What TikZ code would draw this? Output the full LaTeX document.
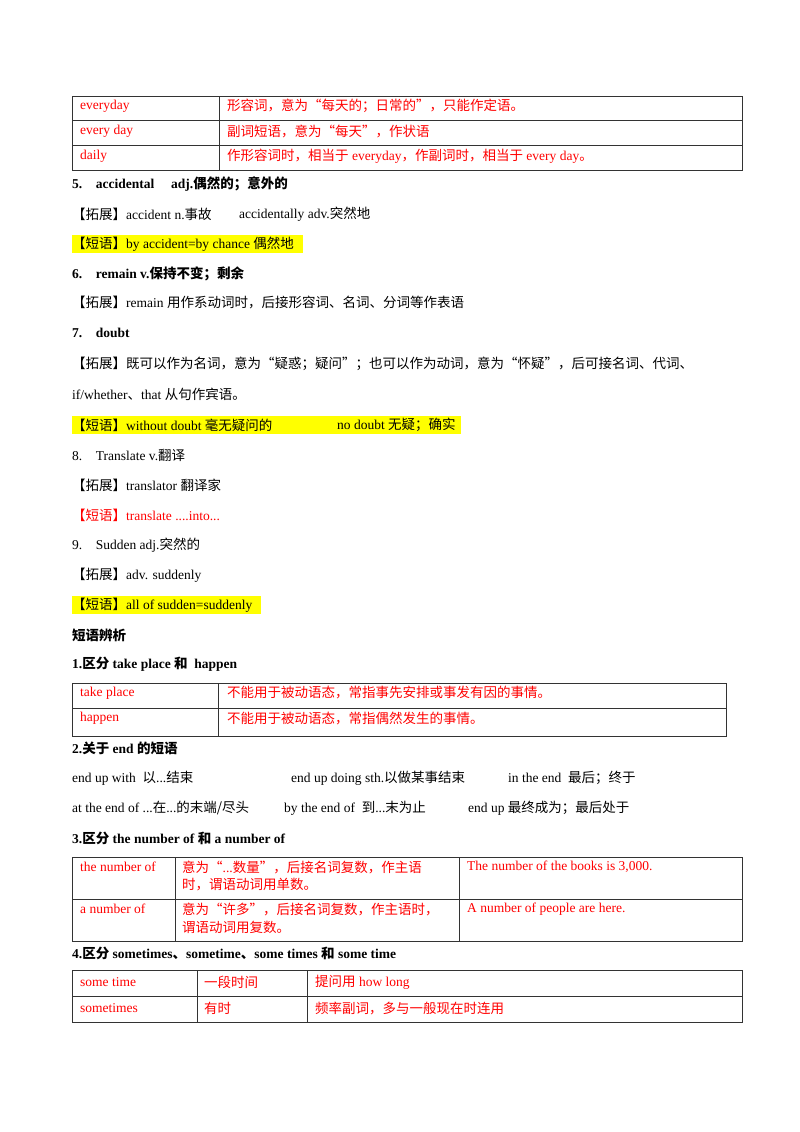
\documentclass[tikz,border=0pt]{standalone}
\usepackage{fontspec}
\setmainfont{Liberation Serif}
\newfontfamily\cjk{Noto Sans CJK SC}
\newcommand{\zh}[1]{{\cjk #1}}
\usepackage{tikz}
\usetikzlibrary{positioning}
\definecolor{notered}{rgb}{1.0,0.0,0.0}
\definecolor{marker}{rgb}{1.0,1.0,0.0}

\tikzset{
  txt/.style={anchor=west,inner sep=0pt,font=\fontsize{13.5}{16}\selectfont},
  red/.style={txt,text=notered},
  head/.style={txt,font=\fontsize{13.5}{16}\selectfont\bfseries},
  rule/.style={line width=0.8pt,black!80}
}

\begin{document}
\begin{tikzpicture}[x=1pt,y=-1pt]
  \useasboundingbox[fill=white] (0,0) rectangle (800,1132);

  % table: everyday
  \draw[rule] (72,96) rectangle (742,170);
  \draw[rule] (72,120) -- (742,120) (72,145) -- (742,145) (219,96) -- (219,170);
  \node[red] (t1a) at (80,106) {everyday};
  \node[red] (t1b) at (227,106) {\zh{形容词，意为“每天的；日常的”，只能作定语。}};
  \node[red] (t1c) at (80,131) {every day};
  \node[red] (t1d) at (227,131) {\zh{副词短语，意为“每天”，作状语}};
  \node[red] (t1e) at (80,156) {daily};
  \node[red] (t1f) at (227,156) {\zh{作形容词时，相当于} everyday\zh{，作副词时，相当于} every day\zh{。}};

  % word 5
  \node[head] (w5) at (72,184) {5.\quad accidental\quad\ adj.\zh{偶然的；意外的}};
  \node[txt] (w5a) at (72,214) {\zh{【拓展】}accident n.\zh{事故}};
  \node[txt] (w5b) at (239,214) {accidentally adv.\zh{突然地}};
  \fill[marker] (72,235) rectangle (303,253);
  \node[txt] (w5c) at (72,244) {\zh{【短语】}by accident=by chance \zh{偶然地}};

  % word 6
  \node[head] (w6) at (72,274) {6.\quad remain v.\zh{保持不变；剩余}};
  \node[txt] (w6a) at (72,303) {\zh{【拓展】}remain \zh{用作系动词时，后接形容词、名词、分词等作表语}};

  % word 7
  \node[head] (w7) at (72,333) {7.\quad doubt};
  \node[txt] (w7a) at (72,364) {\zh{【拓展】既可以作为名词，意为“疑惑；疑问”；也可以作为动词，意为“怀疑”，后可接名词、代词、}};
  \node[txt] (w7b) at (72,394) {if/whether\zh{、}that \zh{从句作宾语。}};
  \fill[marker] (72,416) rectangle (461,434);
  \node[txt] (w7c) at (72,425) {\zh{【短语】}without doubt \zh{毫无疑问的}};
  \node[txt] (w7d) at (337,425) {no doubt \zh{无疑；确实}};

  % word 8
  \node[txt] (w8) at (72,455) {8.\quad Translate v.\zh{翻译}};
  \node[txt] (w8a) at (72,485) {\zh{【拓展】}translator \zh{翻译家}};
  \node[red] (w8b) at (72,515) {\zh{【短语】}translate ....into...};

  % word 9
  \node[txt] (w9) at (72,545) {9.\quad Sudden adj.\zh{突然的}};
  \node[txt] (w9a) at (72,575) {\zh{【拓展】}adv. suddenly};
  \fill[marker] (72,596) rectangle (261,614);
  \node[txt] (w9b) at (72,605) {\zh{【短语】}all of sudden=suddenly};

  % phrases
  \node[head] (ph) at (72,635) {\zh{短语辨析}};
  \node[head] (p1) at (72,664) {1.\zh{区分} take place \zh{和}\ \ happen};
  \draw[rule] (72,683) rectangle (726,736);
  \draw[rule] (72,708) -- (726,708) (218,683) -- (218,736);
  \node[red] (p1a) at (80,693) {take place};
  \node[red] (p1b) at (227,693) {\zh{不能用于被动语态，常指事先安排或事发有因的事情。}};
  \node[red] (p1c) at (80,718) {happen};
  \node[red] (p1d) at (227,718) {\zh{不能用于被动语态，常指偶然发生的事情。}};

  \node[head] (p2) at (72,748) {2.\zh{关于} end \zh{的短语}};
  \node[txt] (p2a) at (72,778) {end up with\ \ \zh{以}...\zh{结束}};
  \node[txt] (p2b) at (291,778) {end up doing sth.\zh{以做某事结束}};
  \node[txt] (p2c) at (508,778) {in the end\ \ \zh{最后；终于}};
  \node[txt] (p2d) at (72,808) {at the end of ...\zh{在}...\zh{的末端/尽头}};
  \node[txt] (p2e) at (284,808) {by the end of\ \ \zh{到}...\zh{末为止}};
  \node[txt] (p2f) at (468,808) {end up \zh{最终成为；最后处于}};

  \node[head] (p3) at (72,838) {3.\zh{区分} the number of \zh{和} a number of};
  \draw[rule] (72,857) rectangle (742,941);
  \draw[rule] (72,899) -- (742,899) (175,857) -- (175,941) (459,857) -- (459,941);
  \node[red] (p3a) at (80,867) {the number of};
  \node[red] (p3b) at (182,867) {\zh{意为“}...\zh{数量”，后接名词复数，作主语}};
  \node[red] (p3c) at (182,885) {\zh{时，谓语动词用单数。}};
  \node[red] (p3d) at (467,867) {The number of the books is 3,000.};
  \node[red] (p3e) at (80,909) {a number of};
  \node[red] (p3f) at (182,909) {\zh{意为“许多”，后接名词复数，作主语时，}};
  \node[red] (p3g) at (182,927) {\zh{谓语动词用复数。}};
  \node[red] (p3h) at (467,909) {A number of people are here.};

  \node[head] (p4) at (72,953) {4.\zh{区分} sometimes\zh{、}sometime\zh{、}some times \zh{和} some time};
  \draw[rule] (72,970) rectangle (742,1022);
  \draw[rule] (72,996) -- (742,996) (197,970) -- (197,1022) (307,970) -- (307,1022);
  \node[red] (p4a) at (80,982) {some time};
  \node[red] (p4b) at (204,982) {\zh{一段时间}};
  \node[red] (p4c) at (315,982) {\zh{提问用} how long};
  \node[red] (p4d) at (80,1008) {sometimes};
  \node[red] (p4e) at (204,1008) {\zh{有时}};
  \node[red] (p4f) at (315,1008) {\zh{频率副词，多与一般现在时连用}};
\end{tikzpicture}
\end{document}
